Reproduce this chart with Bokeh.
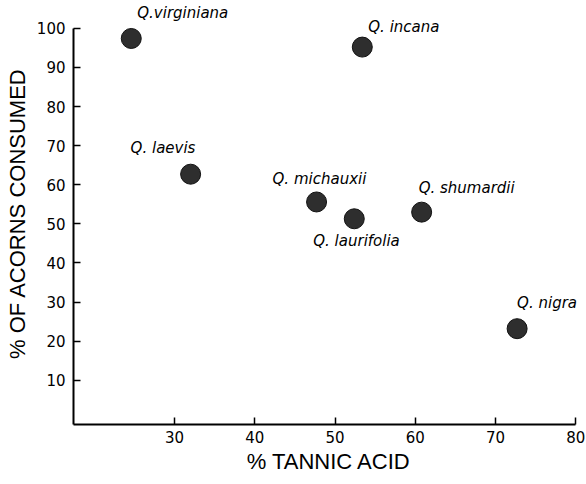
from bokeh.plotting import figure
from bokeh.models import ColumnDataSource, FixedTicker, Range1d
from bokeh.core.properties import value
from bokeh.embed import file_html
from bokeh.resources import INLINE

# Data
species = ["Q.virginiana", "Q. laevis", "Q. incana", "Q. michauxii",
           "Q. shumardii", "Q. laurifolia", "Q. nigra"]
tannic_acid = [24.6, 32.0, 53.4, 47.7, 60.8, 52.4, 72.7]
consumed = [97.4, 62.7, 95.2, 55.6, 53.0, 51.3, 23.2]
x_ticks = [30, 40, 50, 60, 70, 80]
y_ticks = [10, 20, 30, 40, 50, 60, 70, 80, 90, 100]

# label placement (screen px relative to the point)
label_dx = [6, -60, 6, -44, -3, -41, 0]
label_dy = [-25, -26, -20, -23, -24, 22, -26]

X0, X1 = 17.4, 81.1
Y0, Y1 = -1.3, 106.6

src = ColumnDataSource(dict(x=tannic_acid, y=consumed, name=species,
                            dx=label_dx, dy=label_dy))

p = figure(width=586, height=484, output_backend="svg", toolbar_location=None,
           x_range=Range1d(X0, X1), y_range=Range1d(Y0, Y1),
           min_border_left=73, min_border_right=2, min_border_top=2,
           min_border_bottom=60)
p.outline_line_color = None
p.xgrid.visible = False
p.ygrid.visible = False
p.background_fill_color = "white"
p.border_fill_color = "white"

p.scatter("x", "y", source=src, size=20, fill_color="#2e2e2e",
          line_color="#111111", line_width=1)
p.text("x", "y", text="name", source=src, x_offset="dx", y_offset="dy",
       text_align="left", text_baseline="middle",
       text_font=value("DejaVu Sans"), text_font_style="italic",
       text_font_size="15px", text_color="black")

for ax, ticks, bnds in ((p.xaxis[0], x_ticks, (X0, 80)), (p.yaxis[0], y_ticks, (Y0, 100))):
    ax.ticker = FixedTicker(ticks=ticks)
    ax.bounds = bnds
    ax.axis_line_width = 2
    ax.axis_line_color = "black"
    ax.major_tick_in = 7
    ax.major_tick_out = 0
    ax.major_tick_line_width = 1.5
    ax.minor_tick_line_color = None
    ax.major_label_text_font = "DejaVu Sans"
    ax.major_label_text_font_size = "15px"
    ax.major_label_text_color = "black"
    ax.axis_label_text_font = "Liberation Sans"
    ax.axis_label_text_font_size = "22px"
    ax.axis_label_text_font_style = "normal"
    ax.axis_label_text_color = "black"

p.xaxis.axis_label = "% TANNIC ACID"
p.yaxis.axis_label = "% OF ACORNS CONSUMED"
p.xaxis.major_label_standoff = 6
p.yaxis.major_label_standoff = 8
p.xaxis.axis_label_standoff = 3
p.yaxis.axis_label_standoff = 4

open("out.html", "w").write(file_html(p, INLINE))
